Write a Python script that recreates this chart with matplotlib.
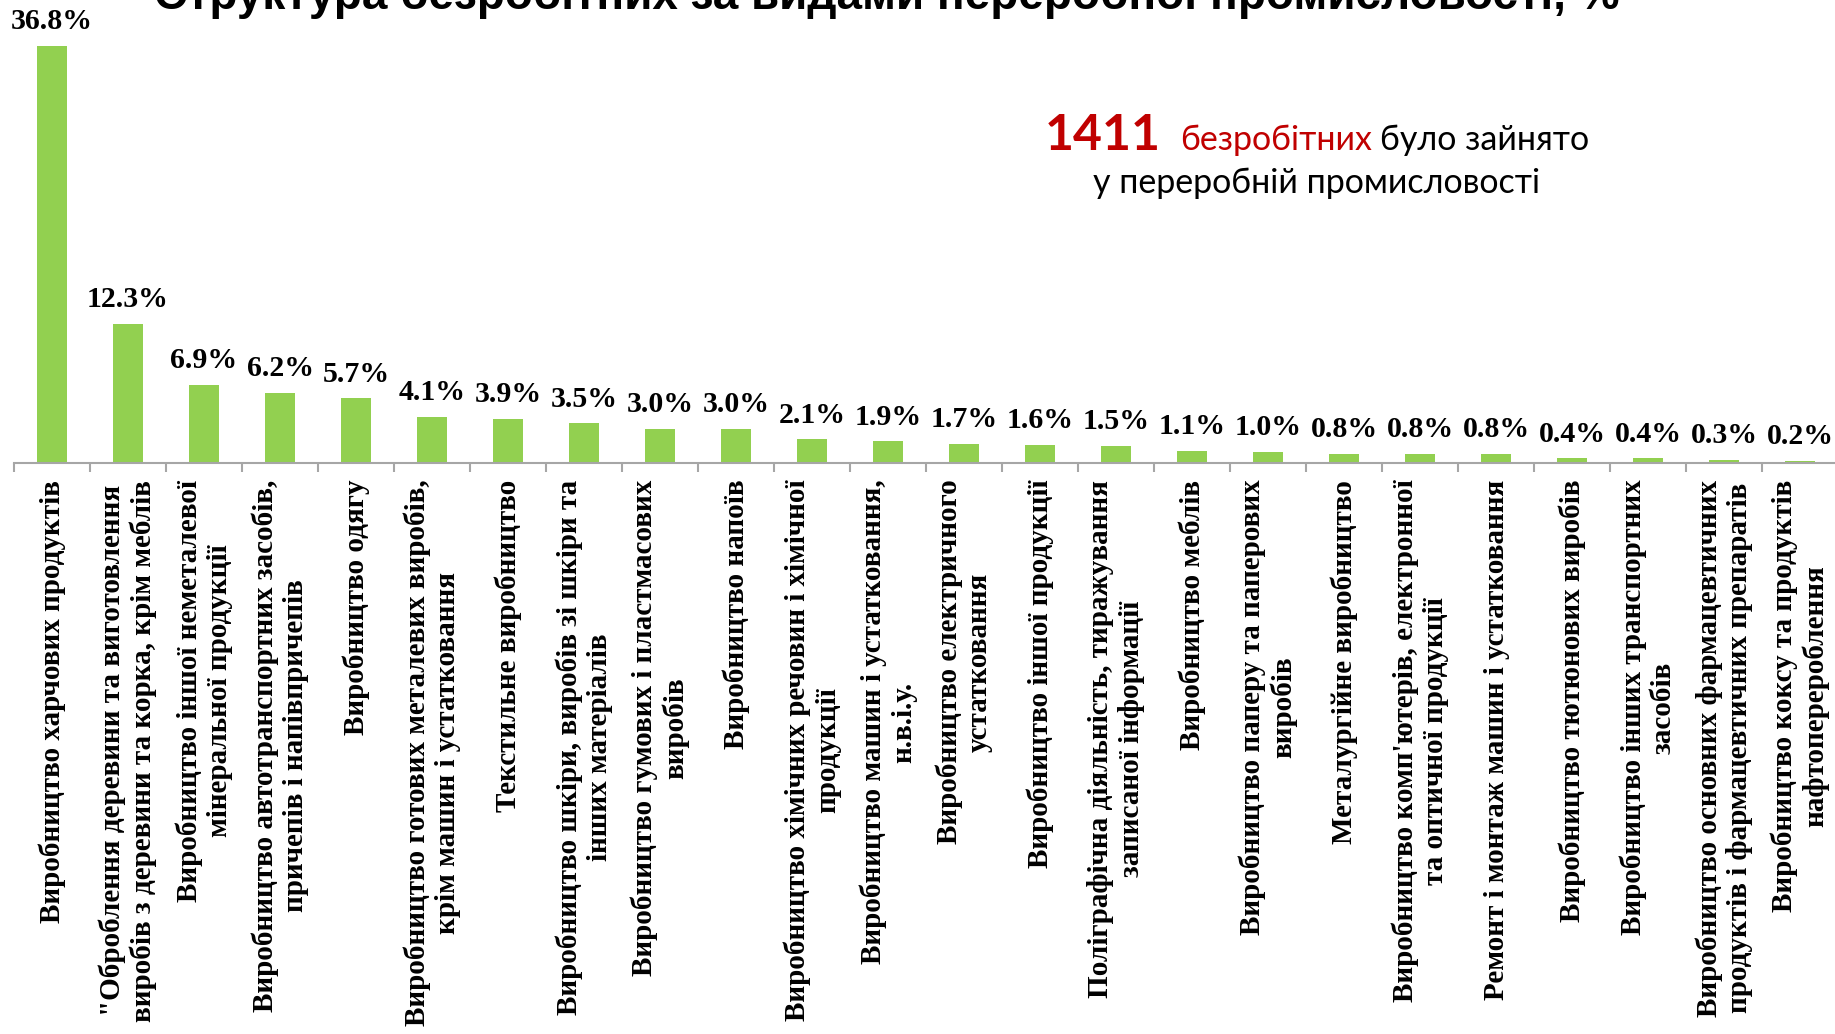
import matplotlib
matplotlib.use('Agg')
import matplotlib.pyplot as plt

# categories (tick labels), shares in % of unemployed
categories = [
    'Виробництво харчових продуктів',
    '"Оброблення деревини та виготовлення\nвиробів з деревини та корка, крім меблів',
    'Виробництво іншої неметалевої\nмінеральної продукції',
    'Виробництво автотранспортних засобів,\nпричепів і напівпричепів',
    'Виробництво одягу',
    'Виробництво готових металевих виробів,\nкрім машин і устатковання',
    'Текстильне виробництво',
    'Виробництво шкіри, виробів зі шкіри та\nінших матеріалів',
    'Виробництво гумових і пластмасових\nвиробів',
    'Виробництво напоїв',
    'Виробництво хімічних речовин і хімічної\nпродукції',
    'Виробництво машин і устатковання,\nн.в.і.у.',
    'Виробництво електричного\nустатковання',
    'Виробництво іншої продукції',
    'Поліграфічна діяльність, тиражування\nзаписаної інформації',
    'Виробництво меблів',
    'Виробництво паперу та паперових\nвиробів',
    'Металургійне виробництво',
    "Виробництво комп'ютерів, електронної\nта оптичної продукції",
    'Ремонт і монтаж машин і устатковання',
    'Виробництво тютюнових виробів',
    'Виробництво інших транспортних\nзасобів',
    'Виробництво основних фармацевтичних\nпродуктів і фармацевтичних препаратів',
    'Виробництво коксу та продуктів\nнафтоперероблення',
]
shares = [36.8, 12.3, 6.9, 6.2, 5.7, 4.1, 3.9, 3.5, 3.0, 3.0, 2.1, 1.9,
          1.7, 1.6, 1.5, 1.1, 1.0, 0.8, 0.8, 0.8, 0.4, 0.4, 0.3, 0.2]

title = 'Структура безробітних за видами переробної промисловості, %'
total_count = '1411'

W, H = 1835, 1034
fig = plt.figure(figsize=(W / 100, H / 100), dpi=100)
ax = fig.add_axes([14 / W, (H - 463) / H, 1824 / W, 463 / H])

x = list(range(len(categories)))
ax.bar(x, shares, width=0.4, color='#92D050', zorder=2)
ax.set_xlim(-0.5, len(categories) - 0.5)
ax.set_ylim(0, 40.86)

for xi, v in zip(x, shares):
    ax.annotate(f'{v:.1f}%', (xi, v), xytext=(0, 12), textcoords='offset points',
                ha='center', va='baseline', family='Liberation Serif',
                weight='bold', fontsize=21.5)

# axis styling
for s in ['top', 'right', 'left']:
    ax.spines[s].set_visible(False)
ax.spines['bottom'].set_color('#a6a6a6')
ax.spines['bottom'].set_linewidth(1.5)
ax.set_yticks([])
ax.set_xticks(x)
ax.set_xticklabels(categories, rotation=90, family='Liberation Serif',
                   weight='bold', fontsize=21, linespacing=1.15)
ax.tick_params(axis='x', which='major', length=0, pad=12)
ax.set_xticks([i - 0.5 for i in range(len(categories) + 1)], minor=True)
ax.tick_params(axis='x', which='minor', length=6.5, width=1.5, color='#a6a6a6')

# title (cut off at the top edge as in the original)
fig.text(887 / W, 1 - 9 / H, title, ha='center', va='baseline',
         family='Liberation Sans', weight='bold', fontsize=33)

# annotation block
fig.canvas.draw()
r = fig.canvas.get_renderer()
base1 = 1 - 150 / H
t1 = fig.text(0, base1, total_count, color='#C00000', family='Lato',
              weight='bold', fontsize=36, va='baseline')
t2 = fig.text(0, base1, 'безробітних', color='#C00000', family='Lato',
              fontsize=24.5, va='baseline')
t3 = fig.text(0, base1, 'було зайнято', color='black', family='Lato',
              fontsize=24.5, va='baseline')
w1 = t1.get_window_extent(r).width
w2 = t2.get_window_extent(r).width
w3 = t3.get_window_extent(r).width
gap1, gap2 = 20, 8
total = w1 + gap1 + w2 + gap2 + w3
cx = 1317
x0 = cx - total / 2
t1.set_x(x0 / W)
t2.set_x((x0 + w1 + gap1) / W)
t3.set_x((x0 + w1 + gap1 + w2 + gap2) / W)
fig.text(cx / W, 1 - 193 / H, 'у переробній промисловості', color='black',
         family='Lato', fontsize=24.5, ha='center', va='baseline')

fig.savefig('out.png', dpi=100)
